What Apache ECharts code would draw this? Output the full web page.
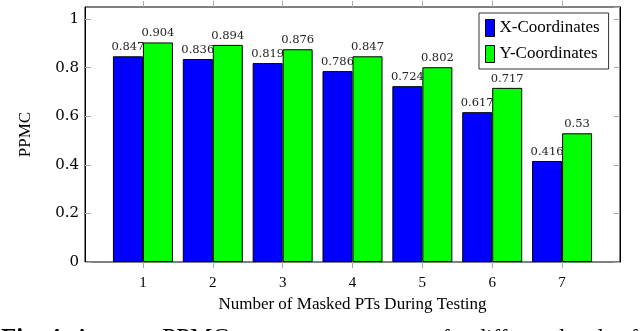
<!DOCTYPE html>
<html>
<head>
<meta charset="utf-8">
<script src="https://cdn.jsdelivr.net/npm/echarts@6/dist/echarts.min.js"></script>
<style>
html,body{margin:0;padding:0;background:#fff;}
#chart{width:640px;height:331px;}
</style>
</head>
<body>
<div id="chart"></div>
<script>
const categories = ['1', '2', '3', '4', '5', '6', '7'];
const xCoordValues = [0.847, 0.836, 0.819, 0.786, 0.724, 0.617, 0.416];
const yCoordValues = [0.904, 0.894, 0.876, 0.847, 0.802, 0.717, 0.53];
const seriesNames = ['X-Coordinates', 'Y-Coordinates'];
const xAxisTitle = 'Number of Masked PTs During Testing';
const yAxisTitle = 'PPMC';
const captionLeft = 'Fig. 4.';
const captionMid = ' Average PPMC';
const captionRight = 'for different levels of masking';

const chart = echarts.init(document.getElementById('chart'), null, {renderer: 'canvas'});
const serif = 'DejaVu Serif';
const times = 'Liberation Serif';
const tickGray = '#a8a8a8';

function labelFmt(p) { return String(p.value); }

const option = {
  animation: false,
  backgroundColor: '#fff',
  grid: [
    {left: 85, right: 20, top: 7, bottom: 69, show: true, borderColor: '#000', borderWidth: 1, backgroundColor: 'transparent'},
    {left: 108, right: 43, top: 7, bottom: 69}
  ],
  xAxis: [
    {gridIndex: 0, type: 'value', min: 0, max: 1, show: false},
    {gridIndex: 1, type: 'category', data: categories, position: 'bottom',
      axisLine: {show: false},
      axisTick: {show: true, alignWithLabel: true, length: 6, inside: false, lineStyle: {color: tickGray}},
      axisLabel: {fontFamily: times, fontSize: 15, color: '#000', margin: 14},
      splitLine: {show: false},
      name: xAxisTitle, nameLocation: 'middle', nameGap: 30,
      nameTextStyle: {fontFamily: times, fontSize: 17, color: '#000'}
    },
    {gridIndex: 1, type: 'category', data: categories, position: 'top',
      axisLine: {show: false},
      axisTick: {show: true, alignWithLabel: true, length: 6, inside: false, lineStyle: {color: tickGray}},
      axisLabel: {show: false},
      splitLine: {show: false}
    }
  ],
  yAxis: [
    {gridIndex: 0, type: 'value', min: 0, max: 1.05, interval: 0.2, position: 'left',
      axisLine: {show: true, lineStyle: {color: '#000', width: 1}},
      axisTick: {show: true, inside: true, length: 6, lineStyle: {color: tickGray}},
      axisLabel: {fontFamily: serif, fontSize: 15, color: '#000', margin: 6, showMaxLabel: false,
        formatter: function (v) { return v > 1.01 ? '' : String(Math.round(v * 10) / 10); }},
      splitLine: {show: false},
      name: yAxisTitle, nameLocation: 'middle', nameGap: 51,
      nameTextStyle: {fontFamily: times, fontSize: 17, color: '#000'}
    },
    {gridIndex: 0, type: 'value', min: 0, max: 1.05, interval: 0.2, position: 'right',
      axisLine: {show: true, lineStyle: {color: '#000', width: 1}},
      axisTick: {show: true, inside: true, length: 6, lineStyle: {color: tickGray}},
      axisLabel: {show: false},
      splitLine: {show: false}
    },
    {gridIndex: 1, type: 'value', min: 0, max: 1.05, show: false}
  ],
  legend: {
    left: 479, top: 13, orient: 'vertical',
    borderColor: '#333', borderWidth: 1, backgroundColor: '#fff',
    padding: [6, 9, 6, 6], itemGap: 8, itemWidth: 9, itemHeight: 17,
    icon: 'rect',
    itemStyle: {borderColor: '#000', borderWidth: 1},
    textStyle: {fontFamily: times, fontSize: 17, color: '#000'},
    data: seriesNames
  },
  series: [
    {name: seriesNames[0], type: 'bar', xAxisIndex: 1, yAxisIndex: 2, data: xCoordValues,
      barWidth: 30, barGap: '0%',
      itemStyle: {color: '#0000ff', borderColor: '#000', borderWidth: 1},
      label: {show: true, position: 'top', distance: 3, fontFamily: serif, fontSize: 11.5, color: '#222', formatter: labelFmt}
    },
    {name: seriesNames[1], type: 'bar', xAxisIndex: 1, yAxisIndex: 2, data: yCoordValues,
      barWidth: 30, barGap: '0%',
      itemStyle: {color: '#00ff00', borderColor: '#000', borderWidth: 1},
      label: {show: true, position: 'top', distance: 3, fontFamily: serif, fontSize: 11.5, color: '#222', formatter: labelFmt}
    }
  ],
  graphic: [
    {type: 'text', left: 1, top: 327, silent: true,
      style: {text: '{b|' + captionLeft + '}' + captionMid,
        font: '25px "Liberation Serif"', fill: '#000',
        rich: {b: {fontFamily: times, fontSize: 25, fontWeight: 'bold', fill: '#000'}}}},
    {type: 'text', left: 442, top: 327, silent: true,
      style: {text: captionRight, font: '23px "Liberation Serif"', fill: '#000'}}
  ]
};
chart.setOption(option);
</script>
</body>
</html>
